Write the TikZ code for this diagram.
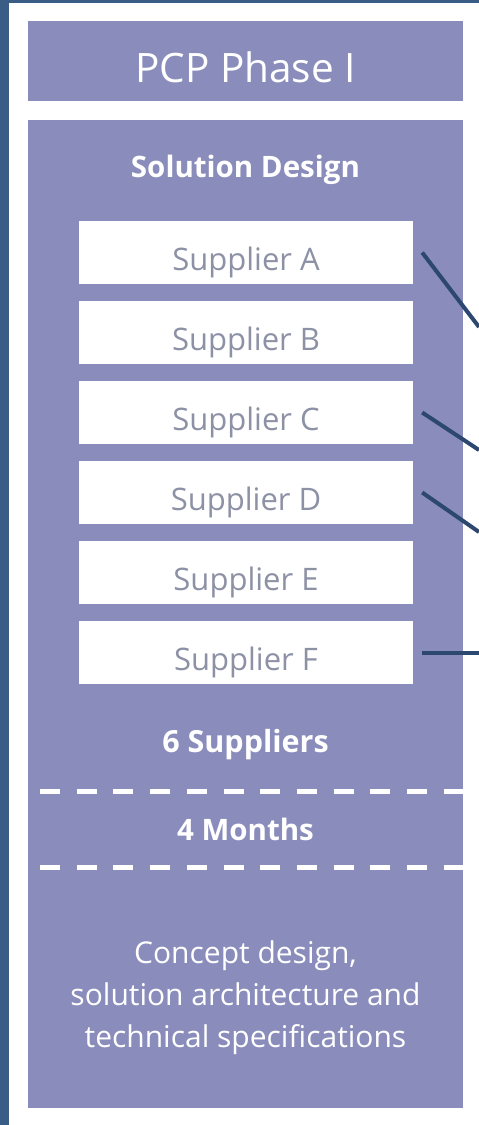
\documentclass[tikz,border=0pt]{standalone}
\usepackage{fontspec}
\setmainfont{Open Sans}[Ligatures={NoCommon}]
\begin{document}
\begin{tikzpicture}[x=1pt,y=-1pt,
        sup/.style={fill=white,minimum width=334pt,minimum height=63pt,inner sep=0pt,
            text=gristxt,font=\fontsize{31}{34}\selectfont,text height=35pt,text depth=0pt},
        blanco/.style={text=white,anchor=base,inner sep=0pt},
        rayas/.style={white,line width=5pt,dash pattern=on 20pt off 16.7pt},
        enlace/.style={navy,line width=4pt}]
        %colores
        \definecolor{lav}{HTML}{8A8DBB}
        \definecolor{marco}{HTML}{3A5D85}
        \definecolor{navy}{HTML}{2C4770}
        \definecolor{gristxt}{HTML}{8D91A5}

        \useasboundingbox (0,0) rectangle (479,1125);
        % Fondo y borde
        \fill[white] (0,0) rectangle (479,1125);
        \fill[marco] (0,0) rectangle (9,1125);
        \fill[marco] (0,0) rectangle (479,3);

        % Cajas
        \node[fill=lav,minimum width=435pt,minimum height=80pt,inner sep=0pt,text=white,
            font=\fontsize{40.5}{44}\selectfont,text height=42pt,text depth=0pt] (title) at (245.5,61) {PCP Phase I};
        \fill[lav] (28,120) rectangle (463,1108);

        \node[blanco,font=\bfseries\fontsize{29.5}{32}\selectfont] (design) at (245.5,177) {Solution Design};

        % Proveedores
        \foreach \l [count=\i] in {A,B,C,D,E,F}
            \node[sup] (s\l) at (246,252.5+80*\i-80) {Supplier \l};

        %Lineas de salida
        \coordinate (eA) at (479,327);
        \coordinate (eC) at (479,450);
        \coordinate (eD) at (479,532);
        \coordinate (eF) at (479,652.5);
        \foreach \l in {A,C,D,F}
            \draw[enlace] ([xshift=9pt]s\l.east) -- (e\l);

        \node[blanco,font=\bfseries\fontsize{30.5}{33}\selectfont] (count) at (245.5,752) {6 Suppliers};
        \draw[rayas] (40,791) -- (463,791);
        \node[blanco,font=\bfseries\fontsize{29.5}{32}\selectfont] (months) at (245.5,840) {4 Months};
        \draw[rayas] (40,867) -- (463,867);

        % Texto final
        \foreach \t/\y in {{Concept design,}/963, solution architecture and/1005, technical specifications/1047}
            \node[blanco,font=\fontsize{30}{33}\selectfont] (out\y) at (245.5,\y) {\t};
    \end{tikzpicture}
\end{document}
